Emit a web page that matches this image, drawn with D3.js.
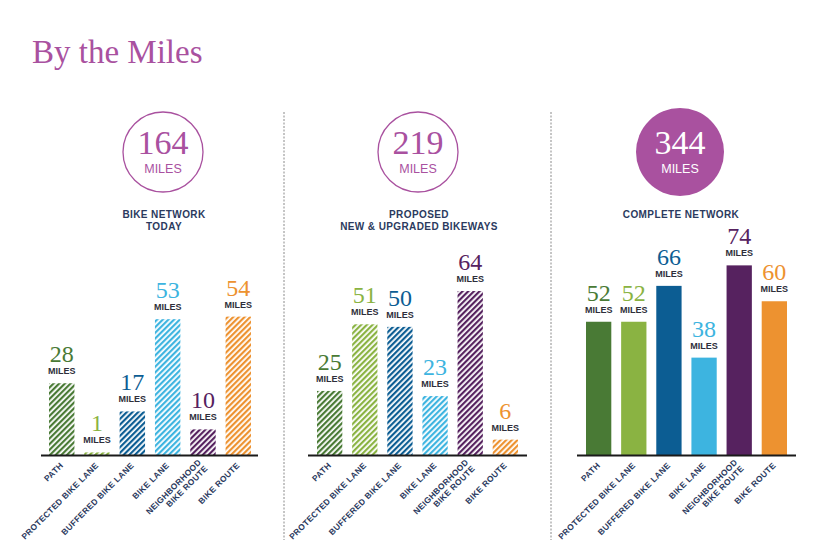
<!DOCTYPE html>
<meta charset="utf-8">
<title>By the Miles</title>
<style>
body { margin: 0; background: #fff; }
.title { font-family: "Liberation Serif", serif; fill: #a9519f; }
.big { font-family: "Liberation Serif", serif; }
.sans { font-family: "Liberation Sans", Arial, sans-serif; }
</style>
<body>
<div id="chart"></div>
<script src="https://d3js.org/d3.v7.min.js"></script>
<script>

// data
var categories = ["PATH", "PROTECTED BIKE LANE", "BUFFERED BIKE LANE", "BIKE LANE", "NEIGHBORHOOD\nBIKE ROUTE", "BIKE ROUTE"];
var todayMiles = [28, 1, 17, 53, 10, 54];
var proposedMiles = [25, 51, 50, 23, 64, 6];
var completeMiles = [52, 52, 66, 38, 74, 60];
var totals = [164, 219, 344];
var panelTitles = [["BIKE NETWORK", "TODAY"], ["PROPOSED", "NEW & UPGRADED BIKEWAYS"], ["COMPLETE NETWORK"]];

var colors = ["#497a35", "#8ab342", "#0c5d93", "#3db4e0", "#56225f", "#ed9230"];
var purple = "#a9519f";
var navy = "#2b3a5e";

var width = 820, height = 560,
    baseY = 455;

var svg = d3.select("#chart").append("svg")
    .attr("width", width)
    .attr("height", height);

// hatch patterns, one per colour
var defs = svg.append("defs");
colors.forEach(function(c, i) {
    var p = defs.append("pattern")
        .attr("id", "hatch" + i)
        .attr("patternUnits", "userSpaceOnUse")
        .attr("width", 4)
        .attr("height", 4)
        .attr("patternTransform", "rotate(45)");
    p.append("rect")
        .attr("width", 2.2)
        .attr("height", 4)
        .attr("fill", c);
});

// title
svg.append("text")
    .attr("class", "title")
    .attr("x", 32)
    .attr("y", 63)
    .style("font-size", "33px")
    .text("By the Miles");

// dashed dividers
[284, 551].forEach(function(x) {
    svg.append("line")
        .attr("x1", x).attr("x2", x)
        .attr("y1", 112).attr("y2", 540)
        .attr("stroke", "#8a8a8a")
        .attr("stroke-width", 1)
        .attr("stroke-dasharray", "2,1.5");
});

var y = d3.scaleLinear()
    .domain([0, 80])
    .range([baseY, baseY - 205]);

var panels = [
    {values: todayMiles, bars: [49, 251], axis: [41, 258], cx: 163, solid: false, filled: false},
    {values: proposedMiles, bars: [317, 518], axis: [308, 527], cx: 418, solid: false, filled: false},
    {values: completeMiles, bars: [586, 787], axis: [577, 796], cx: 680, solid: true, filled: true}
];

panels.forEach(function(p, pi) {
    var g = svg.append("g");

    // total circle
    g.append("circle")
        .attr("cx", p.cx)
        .attr("cy", 152)
        .attr("r", p.filled ? 44 : 40)
        .attr("fill", p.filled ? purple : "none")
        .attr("stroke", purple)
        .attr("stroke-width", p.filled ? 0 : 1.3);

    g.append("text")
        .attr("class", "big")
        .attr("x", p.cx)
        .attr("y", 154)
        .attr("text-anchor", "middle")
        .attr("fill", p.filled ? "#fff" : purple)
        .style("font-size", "34px")
        .text(totals[pi]);

    g.append("text")
        .attr("class", "sans")
        .attr("x", p.cx)
        .attr("y", 173)
        .attr("text-anchor", "middle")
        .attr("fill", p.filled ? "#fff" : purple)
        .style("font-size", "12.5px")
        .text("MILES");

    // panel heading
    g.append("text")
        .attr("class", "sans")
        .attr("text-anchor", "middle")
        .attr("fill", navy)
        .style("font-size", "10px")
        .style("font-weight", "bold")
        .style("letter-spacing", "0.4px")
        .selectAll("tspan")
        .data(panelTitles[pi])
        .enter().append("tspan")
        .attr("x", p.cx + 1)
        .attr("y", function(d, i) { return 218 + i * 12; })
        .text(function(d) { return d; });

    var x = d3.scaleBand()
        .domain(categories)
        .range(p.bars)
        .paddingInner(0.28)
        .paddingOuter(0);

    // bars
    g.selectAll(".bar")
        .data(p.values)
        .enter().append("rect")
        .attr("class", "bar")
        .attr("x", function(d, i) { return x(categories[i]); })
        .attr("y", function(d) { return y(d); })
        .attr("width", x.bandwidth())
        .attr("height", function(d) { return baseY - y(d); })
        .attr("fill", function(d, i) { return p.solid ? colors[i] : "url(#hatch" + i + ")"; });

    // value labels
    g.selectAll(".val")
        .data(p.values)
        .enter().append("text")
        .attr("class", "big val")
        .attr("x", function(d, i) { return x(categories[i]) + x.bandwidth() / 2; })
        .attr("y", function(d) { return y(d) - 21; })
        .attr("text-anchor", "middle")
        .attr("fill", function(d, i) { return colors[i]; })
        .style("font-size", "24px")
        .text(function(d) { return d; });

    g.selectAll(".unit")
        .data(p.values)
        .enter().append("text")
        .attr("class", "sans unit")
        .attr("x", function(d, i) { return x(categories[i]) + x.bandwidth() / 2; })
        .attr("y", function(d) { return y(d) - 9; })
        .attr("text-anchor", "middle")
        .attr("fill", "#2e2e3a")
        .style("font-size", "9px")
        .style("font-weight", "bold")
        .text("MILES");

    // baseline
    g.append("line")
        .attr("x1", p.axis[0]).attr("x2", p.axis[1])
        .attr("y1", baseY + 0.5).attr("y2", baseY + 0.5)
        .attr("stroke", "#1a1a1a")
        .attr("stroke-width", 2);

    // rotated category labels
    var lab = g.selectAll(".cat")
        .data(categories)
        .enter().append("text")
        .attr("class", "sans cat")
        .attr("text-anchor", "end")
        .attr("fill", navy)
        .style("font-size", "8.4px")
        .style("font-weight", "bold")
        .style("letter-spacing", "0.3px")
        .attr("transform", function(d) {
            return "translate(" + (x(d) + x.bandwidth() / 2 + 2) + "," + (baseY + 11) + ") rotate(-45)";
        });

    lab.selectAll("tspan")
        .data(function(d) {
            var lines = d.split("\n");
            return lines.map(function(l, i) { return {t: l, dy: (i - (lines.length - 1) / 2) * 9}; });
        })
        .enter().append("tspan")
        .attr("x", 0)
        .attr("y", function(d) { return d.dy; })
        .text(function(d) { return d.t; });
});

</script>
</body>
